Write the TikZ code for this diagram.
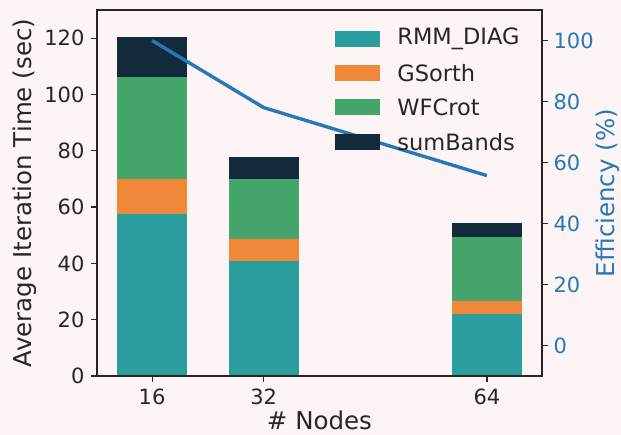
\documentclass[tikz,border=0pt]{standalone}
\usepackage{fontspec}
\setmainfont{DejaVu Sans}
\usepackage{tikz}
\usetikzlibrary{positioning}
\definecolor{bgpink}{HTML}{FDF5F5}
\definecolor{rmmcol}{HTML}{2A9D9F}
\definecolor{gscol}{HTML}{EF8838}
\definecolor{wfcol}{HTML}{45A56A}
\definecolor{sumcol}{HTML}{13293C}
\definecolor{effblue}{HTML}{2878B8}
\definecolor{inkgray}{HTML}{262626}

\begin{document}
\begin{tikzpicture}[x=1pt,y=1pt,
	spine/.style={draw=inkgray,line width=1.2pt},
	tickmark/.style={draw=inkgray,line width=1.2pt},
	ticklabel/.style={font=\fontsize{21}{25}\selectfont,text=inkgray,inner sep=0pt},
	effticklabel/.style={ticklabel,text=effblue},
	axislabel/.style={font=\fontsize{24.5}{29}\selectfont,text=inkgray,inner sep=0pt},
	legendbox/.style={minimum width=45pt,minimum height=16pt,inner sep=0pt},
	legendtext/.style={font=\fontsize{22.5}{27}\selectfont,text=inkgray,inner sep=0pt,anchor=west},
	effline/.style={draw=effblue,line width=3.4pt,line join=round}]

	\useasboundingbox[fill=bgpink] (0,0) rectangle (621,435);

	% stacked bars, time axis
	\begin{scope}[shift={(40.5,59)},x=6.975pt,y=2.8154pt]
		\fill[rmmcol] (11,0) rectangle (21,57.5);
		\fill[gscol] (11,57.5) rectangle (21,70.0);
		\fill[wfcol] (11,70.0) rectangle (21,106.3);
		\fill[sumcol] (11,106.3) rectangle (21,120.5);

		\fill[rmmcol] (27,0) rectangle (37,40.9);
		\fill[gscol] (27,40.9) rectangle (37,48.6);
		\fill[wfcol] (27,48.6) rectangle (37,70.1);
		\fill[sumcol] (27,70.1) rectangle (37,77.7);

		\fill[rmmcol] (59,0) rectangle (69,22.1);
		\fill[gscol] (59,22.1) rectangle (69,26.6);
		\fill[wfcol] (59,26.6) rectangle (69,49.5);
		\fill[sumcol] (59,49.5) rectangle (69,54.5);
	\end{scope}

	% efficiency points
	\begin{scope}[shift={(40.5,89.5)},x=6.975pt,y=3.05pt]
		\coordinate (e16) at (16,100);
		\coordinate (e32) at (32,78);
		\coordinate (e64) at (64,55.7);
	\end{scope}
	\draw[effline] (e16) -- (e32) -- (e64);

	% legend
	\node[legendbox,fill=rmmcol] (lrmm) at (357.5,395.7) {};
	\node[legendbox,fill=gscol] (lgs) at (357.5,361.7) {};
	\node[legendbox,fill=wfcol] (lwf) at (357.5,327.7) {};
	\node[legendbox,fill=sumcol] (lsum) at (357.5,293.3) {};
	\node[legendtext,right=17pt of lrmm] (trmm) {RMM\_DIAG};
	\node[legendtext,right=17pt of lgs] (tgs) {GSorth};
	\node[legendtext,right=17pt of lwf] (twf) {WFCrot};
	\node[legendtext,right=17pt of lsum] (tsum) {sumBands};

	% axes
	\draw[spine] (97,59) rectangle (542,425);
	\foreach \v in {0,20,...,120}
		\draw[tickmark] (97,{59+\v*2.8154}) -- ++(-6,0)
			node[ticklabel,anchor=east,xshift=-6pt] (yt\v) {\v};
	\foreach \v in {0,20,...,100}
		\draw[tickmark] (542,{89.5+\v*3.05}) -- ++(6,0)
			node[effticklabel,anchor=west,xshift=5pt] (rt\v) {\v};
	\foreach \n in {16,32,64}
		\draw[tickmark] ({40.5+\n*6.975},59) -- ++(0,-6)
			node[ticklabel,anchor=north,yshift=-6.5pt] (xt\n) {\n};

	\node[axislabel,rotate=90] (ylab) at (25,242) {Average Iteration Time (sec)};
	\node[axislabel,rotate=90,text=effblue] (rlab) at (607.5,242) {Efficiency (\%)};
	\node[axislabel,anchor=base] (xlab) at (319.5,5) {\# Nodes};
\end{tikzpicture}
\end{document}
